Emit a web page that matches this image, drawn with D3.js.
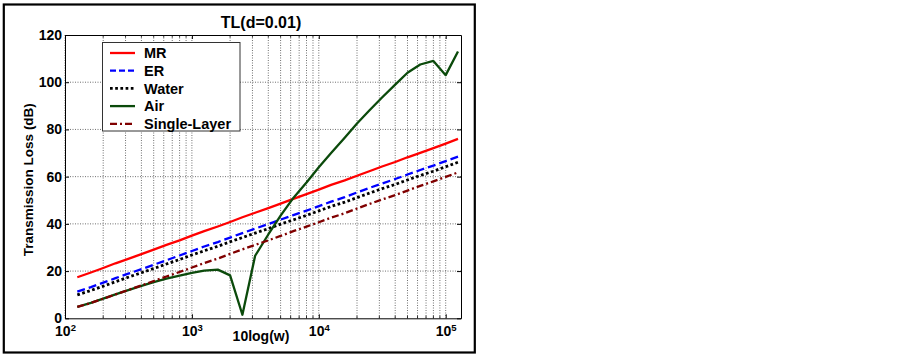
<!DOCTYPE html>
<html>
<head>
<meta charset="utf-8">
<script src="https://cdn.jsdelivr.net/npm/d3@7"></script>
<style>
  body { margin: 0; background: #fff; }
  text { font-family: "Liberation Sans", Arial, Helvetica, sans-serif; font-weight: bold; }
</style>
</head>
<body>
<div id="chart"></div>
<script>
// 1/3-octave sample points
const freqs = [125, 160, 200, 250, 315, 400, 500, 630, 800, 1000, 1250, 1600, 2000, 2500, 3150, 4000,
    5000, 6300, 8000, 10000, 12500, 16000, 20000, 25000, 31500, 40000, 50000, 63000, 80000, 100000, 125000];

const mr = [17.4, 19.4, 21.3, 23.3, 25.2, 27.2, 29.1, 31.1, 33.0, 35.0, 36.9, 38.9, 40.8, 42.8, 44.7, 46.7,
    48.6, 50.6, 52.6, 54.5, 56.5, 58.4, 60.4, 62.3, 64.3, 66.2, 68.2, 70.1, 72.1, 74.0, 76.0];
const er = [11.3, 13.2, 15.1, 17.0, 18.9, 20.8, 22.7, 24.6, 26.6, 28.5, 30.4, 32.3, 34.2, 36.1, 38.0, 39.9,
    41.8, 43.7, 45.6, 47.5, 49.4, 51.3, 53.3, 55.2, 57.1, 59.0, 60.9, 62.8, 64.7, 66.6, 68.5];
const water = [9.9, 11.8, 13.6, 15.5, 17.4, 19.3, 21.1, 23.0, 24.9, 26.8, 28.6, 30.5, 32.4, 34.2, 36.1, 38.0,
    39.9, 41.7, 43.6, 45.5, 47.4, 49.2, 51.1, 53.0, 54.9, 56.7, 58.6, 60.5, 62.3, 64.2, 66.1];
const air = [4.8, 6.5, 8.3, 10.1, 11.9, 13.7, 15.3, 16.8, 18.1, 19.2, 20.2, 20.6, 18.2, 1.5, 26.5, 35.5,
    43.5, 51, 57.5, 64, 70, 76.5, 82.5, 88, 93.5, 99, 104, 107.5, 109, 103, 113];
const singleLayer = [4.8, 6.5, 8.3, 10.1, 12.0, 13.9, 15.8, 17.7, 19.6, 21.5, 23.4, 25.3, 27.3, 29.2, 31.1, 33.0,
    34.9, 36.9, 38.8, 40.7, 42.6, 44.5, 46.5, 48.4, 50.3, 52.2, 54.1, 56.1, 58.0, 59.9, 61.8];

const seriesNames = ["MR", "ER", "Water", "Air", "Single-Layer"];
const yTicks = [0, 20, 40, 60, 80, 100, 120];
const xDecades = [100, 1000, 10000, 100000];
const decadeExp = ["2", "3", "4", "5"];

const styles = {
    "MR": { color: "#ff0000", dash: null, w: 2.3 },
    "ER": { color: "#0000ff", dash: "8,4", w: 2.3 },
    "Water": { color: "#000000", dash: "2.7,2.5", w: 2.8 },
    "Air": { color: "#0b4a0b", dash: null, w: 2.3 },
    "Single-Layer": { color: "#800000", dash: "7,3,2,3", w: 2.3 }
};
const values = [mr, er, water, air, singleLayer];

const width = 902, height = 356;
const pLeft = 65, pRight = 461, pTop = 35, pBottom = 318.3;

const svg = d3.select("#chart").append("svg")
    .attr("width", width)
    .attr("height", height);

svg.append("rect").attr("width", width).attr("height", height).attr("fill", "#fff");

// outer frame
svg.append("rect")
    .attr("x", 3.8).attr("y", 4.5)
    .attr("width", 471).attr("height", 348)
    .attr("fill", "none").attr("stroke", "#000").attr("stroke-width", 2.2);

const x = d3.scaleLog().domain([100, 132000]).range([pLeft, pRight]);
const y = d3.scaleLinear().domain([0, 120]).range([pBottom, pTop]);

const g = svg.append("g");

// grid
g.selectAll(".vgrid")
    .data(x.ticks())
    .enter().append("line")
    .attr("x1", d => x(d)).attr("x2", d => x(d))
    .attr("y1", pTop).attr("y2", pBottom)
    .attr("stroke", "#707070").attr("stroke-width", 1)
    .attr("stroke-dasharray", "1,1.5");

g.selectAll(".hgrid")
    .data(yTicks.slice(1, -1))
    .enter().append("line")
    .attr("x1", pLeft).attr("x2", pRight)
    .attr("y1", d => y(d)).attr("y2", d => y(d))
    .attr("stroke", "#707070").attr("stroke-width", 1)
    .attr("stroke-dasharray", "1,1.5");

// minor ticks inside
const minor = x.ticks().filter(d => !xDecades.includes(d));
[pBottom, pTop].forEach((yy, i) => {
    g.selectAll(".mt" + i)
        .data(minor)
        .enter().append("line")
        .attr("x1", d => x(d)).attr("x2", d => x(d))
        .attr("y1", yy).attr("y2", i === 0 ? yy - 2.5 : yy + 2.5)
        .attr("stroke", "#000").attr("stroke-width", 0.8);
});

// axes
const xAxis = d3.axisBottom(x).tickValues(xDecades).tickSizeInner(-4).tickSizeOuter(0).tickFormat(() => "");
const xg = g.append("g").attr("transform", `translate(0,${pBottom})`).call(xAxis);
g.append("g").attr("transform", `translate(0,${pTop})`)
    .call(d3.axisTop(x).tickValues(xDecades).tickSizeInner(-4).tickSizeOuter(0).tickFormat(() => ""));

const yAxis = d3.axisLeft(y).tickValues(yTicks).tickSizeInner(-4).tickSizeOuter(0).tickPadding(3);
const yg = g.append("g").attr("transform", `translate(${pLeft},0)`).call(yAxis);
g.append("g").attr("transform", `translate(${pRight},0)`)
    .call(d3.axisRight(y).tickValues(yTicks).tickSizeInner(-4).tickSizeOuter(0).tickFormat(() => ""));

g.selectAll(".domain").attr("stroke", "#000").attr("stroke-width", 1);
g.selectAll(".tick line").attr("stroke", "#000");

yg.selectAll(".tick text")
    .attr("font-size", 14)
    .attr("font-family", "Liberation Sans, Arial, sans-serif")
    .attr("font-weight", "bold")
    .attr("fill", "#000")
    .attr("x", -3);

xg.selectAll(".tick").each(function(d, i) {
    const t = d3.select(this).append("text")
        .attr("y", 18)
        .attr("text-anchor", "middle")
        .attr("fill", "#000")
        .attr("font-size", 14);
    t.append("tspan").text("10");
    t.append("tspan").attr("dy", -5.5).attr("font-size", 9.5).text(decadeExp[i]);
});

// lines
const line = d3.line()
    .x((d, i) => x(freqs[i]))
    .y(d => y(d));

seriesNames.forEach((name, k) => {
    const s = styles[name];
    g.append("path")
        .datum(values[k])
        .attr("d", line)
        .attr("fill", "none")
        .attr("stroke", s.color)
        .attr("stroke-width", s.w)
        .attr("stroke-dasharray", s.dash)
        .attr("stroke-linejoin", "round");
});

// legend
const lg = svg.append("g");
lg.append("rect")
    .attr("x", 102.5).attr("y", 42.5)
    .attr("width", 137.5).attr("height", 88.5)
    .attr("fill", "#fff").attr("stroke", "#333").attr("stroke-width", 1);

seriesNames.forEach((name, k) => {
    const s = styles[name];
    const yy = 53 + k * 17.7;
    lg.append("line")
        .attr("x1", 110).attr("x2", 135)
        .attr("y1", yy).attr("y2", yy)
        .attr("stroke", s.color)
        .attr("stroke-width", s.w)
        .attr("stroke-dasharray", s.dash === "8,4" ? "6,3" : s.dash);
    lg.append("text")
        .attr("x", 144).attr("y", yy)
        .attr("dy", "0.36em")
        .attr("font-size", 14.5)
        .text(name);
});

// titles
svg.append("text")
    .attr("x", (pLeft + pRight) / 2 - 2).attr("y", 28)
    .attr("text-anchor", "middle")
    .attr("font-size", 16)
    .text("TL(d=0.01)");

svg.append("text")
    .attr("x", 261).attr("y", 341)
    .attr("text-anchor", "middle")
    .attr("font-size", 14)
    .text("10log(w)");

svg.append("text")
    .attr("transform", `translate(33,${(pTop + pBottom) / 2 + 3}) rotate(-90)`)
    .attr("text-anchor", "middle")
    .attr("font-size", 13.5)
    .text("Transmission Loss (dB)");
</script>
</body>
</html>
